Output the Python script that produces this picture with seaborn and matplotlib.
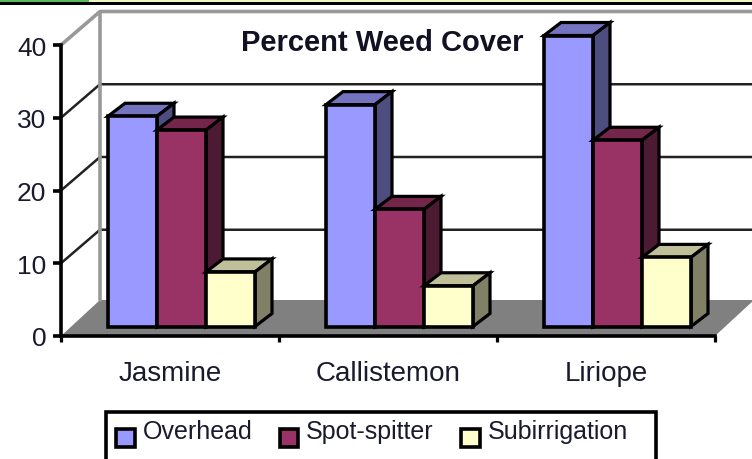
import pandas as pd
import matplotlib
matplotlib.use('Agg')
import matplotlib.pyplot as plt
import seaborn as sns
from matplotlib.patches import Patch, Polygon, Rectangle

plants = ['Jasmine', 'Callistemon', 'Liriope']
overhead = [28.9, 30.5, 40.0]
spot_spitter = [27.0, 16.1, 25.6]
subirrigation = [7.5, 5.6, 9.5]
methods = ['Overhead', 'Spot-spitter', 'Subirrigation']
y_ticks = [0, 10, 20, 30, 40]

front_colors = ['#9999FF', '#993366', '#FFFFCC']
top_colors = ['#7373BF', '#732649', '#BFBF99']
side_colors = ['#4D4D80', '#4D1A33', '#808066']

df = pd.DataFrame({'plant': plants, 'Overhead': overhead,
                   'Spot-spitter': spot_spitter, 'Subirrigation': subirrigation})
long_df = df.melt(id_vars='plant', var_name='method', value_name='cover')

sns.set_theme(style='white')
plt.rcParams['font.family'] = ['Liberation Sans', 'DejaVu Sans']

W, H = 752, 460
fig = plt.figure(figsize=(W / 100, H / 100), dpi=100)
ax = fig.add_axes([61 / W, 1 - 337 / H, 654 / W, 291 / H])

sns.barplot(data=long_df, x='plant', y='cover', hue='method', hue_order=methods,
            palette=front_colors, width=147 / 218, gap=0, saturation=1,
            edgecolor='black', linewidth=2.6, legend=False, ax=ax)
ax.set_xlim(-0.5, 2.5)
ax.set_ylim(0, 40)

# pixel sizes expressed in data units
ux = 1 / 218
uy = 40 / 291
wall_dx, wall_dy = 39 * ux, 33.5 * uy
floor_dy = 36 * uy
shift_x, shift_y = 11.5 * ux, 9.5 * uy
depth_x, depth_y = 17 * ux, 13 * uy

# back wall, left wall and floor
x_left, x_right = ax.get_xlim()
ax.add_patch(Polygon([(x_left, 0), (x_left + wall_dx, floor_dy), (x_right + wall_dx, floor_dy), (x_right, 0)],
                     closed=True, facecolor='#808080', edgecolor='none', zorder=1, clip_on=False))
for tick in y_ticks[1:]:
    c = '#999999' if tick == 40 else '#222222'
    lw = 2.6 if tick == 40 else 1.8
    ax.plot([x_left, x_left + wall_dx, x_right + wall_dx],
            [tick, tick + wall_dy, tick + wall_dy], color=c, lw=lw, zorder=2, clip_on=False)
ax.plot([x_left + wall_dx] * 2, [floor_dy, 40 + wall_dy], color='#999999', lw=2.6, zorder=2, clip_on=False)

# extrude bars left to right so nearer faces overlap correctly
bars = [b for b in ax.patches if isinstance(b, Rectangle) and b.get_height() > 0]
bars = sorted(bars, key=lambda b: b.get_x())
for i, bar in enumerate(bars):
    series = i % 3
    x0 = bar.get_x() + shift_x
    x1 = x0 + bar.get_width()
    y0 = shift_y
    y1 = y0 + bar.get_height()
    z = 5 + i
    bar.set_x(x0)
    bar.set_y(y0)
    bar.set_zorder(z + 0.5)
    bar.set_clip_on(False)
    ax.add_patch(Polygon([(x0, y1), (x1, y1), (x1 + depth_x, y1 + depth_y), (x0 + depth_x, y1 + depth_y)],
                         closed=True, facecolor=top_colors[series], edgecolor='black',
                         lw=2.3, zorder=z, clip_on=False))
    ax.add_patch(Polygon([(x1, y0), (x1 + depth_x, y0 + depth_y), (x1 + depth_x, y1 + depth_y), (x1, y1)],
                         closed=True, facecolor=side_colors[series], edgecolor='black',
                         lw=2.3, zorder=z, clip_on=False))

# axes
sns.despine(ax=ax)
for side in ['left', 'bottom']:
    ax.spines[side].set_linewidth(2.6)
    ax.spines[side].set_color('black')
    ax.spines[side].set_zorder(30)
ax.set_xlabel('')
ax.set_ylabel('')
ax.set_yticks(y_ticks)
ax.set_xticks(range(3))
ax.set_xticks([-0.5, 0.5, 1.5, 2.5], minor=True)
ax.tick_params(axis='y', which='major', left=True, length=5.5, width=2.6, color='black', pad=5,
               labelsize=19, labelcolor='#1a1a2e')
ax.tick_params(axis='x', which='major', bottom=False, pad=11, labelsize=20, labelcolor='#1a1a2e')
ax.tick_params(axis='x', which='minor', bottom=True, length=4, width=2.3, color='black')

fig.text(382 / W, 1 - 43 / H, 'Percent Weed Cover', ha='center', va='center',
         fontsize=21, fontweight='bold', color='#111122')

# strip of the page visible at the top
fig.add_artist(Rectangle((0, 1 - 3 / H), 1, 3 / H, transform=fig.transFigure, facecolor='#F0F5C8', edgecolor='none'))
fig.add_artist(Rectangle((0, 1 - 3 / H), 89 / W, 3 / H, transform=fig.transFigure, facecolor='#5CB85C', edgecolor='none'))
fig.add_artist(Rectangle((0, 1 - 6 / H), 1, 3 / H, transform=fig.transFigure, facecolor='black', edgecolor='none'))

# legend box runs off the bottom of the picture
fig.add_artist(Rectangle((106 / W, -0.02), 550 / W, 1 - 413 / H + 0.02, transform=fig.transFigure,
                         facecolor='white', edgecolor='black', lw=2.6))
handles = [Patch(facecolor=c, edgecolor='black', lw=2.6) for c in front_colors]
leg = fig.legend(handles, methods, ncol=3, frameon=False, loc='center left',
                 bbox_to_anchor=(116 / W, 1 - 441 / H), borderaxespad=0, borderpad=0,
                 fontsize=18, handlelength=0.75, handleheight=0.75,
                 handletextpad=0.32, columnspacing=1.08, labelcolor='#1a1a2e')
for t in leg.get_texts():
    t.set_position((0, 9))

fig.savefig('out.png', dpi=100)
